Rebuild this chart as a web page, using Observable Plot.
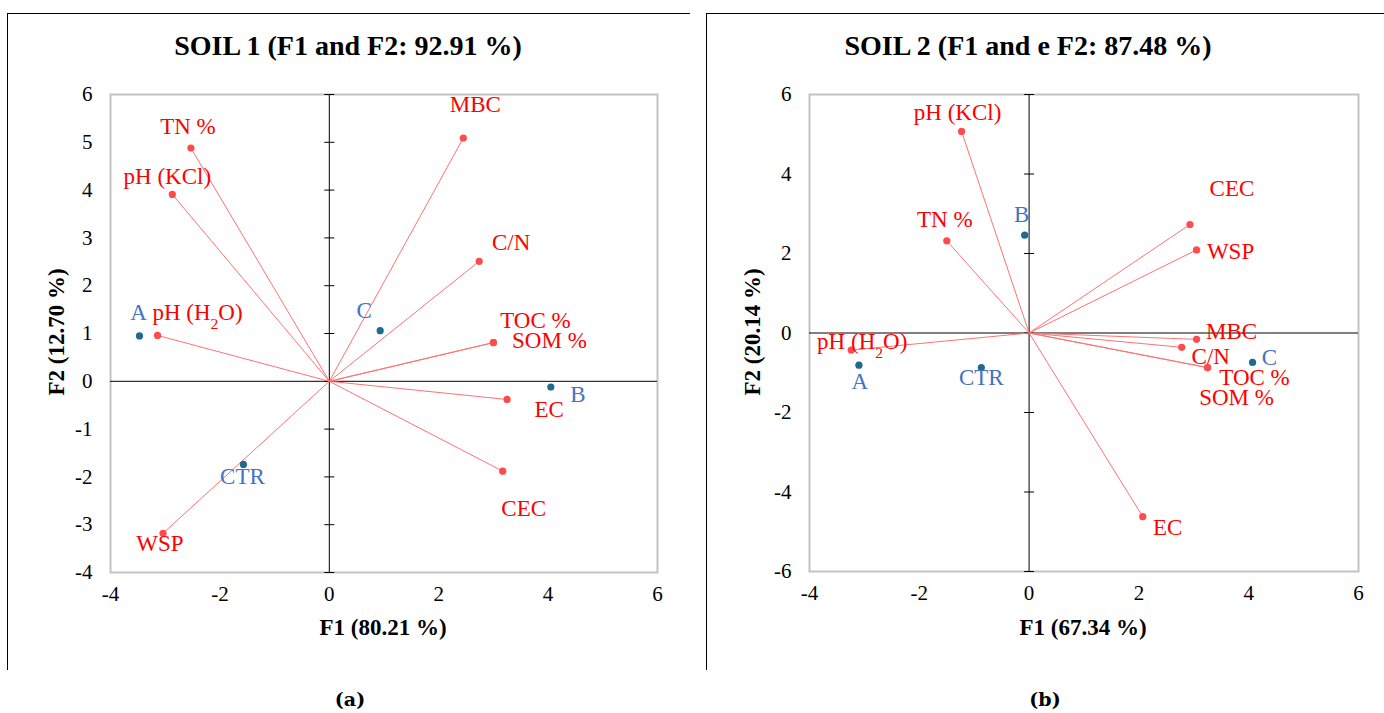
<!DOCTYPE html>
<html>
<head>
<meta charset="utf-8">
<script src="https://cdn.jsdelivr.net/npm/d3@7"></script>
<script src="https://cdn.jsdelivr.net/npm/@observablehq/plot@0.6"></script>
<style>
  body { margin: 0; background: #fff; }
  #wrap { position: relative; width: 1384px; height: 713px; overflow: hidden; font-family: 'Liberation Serif', 'DejaVu Serif', serif; color: #000; }
  .abs { position: absolute; }
  .c { transform: translate(-50%, -50%); white-space: nowrap; }
  .title { font-weight: bold; font-size: 28px; }
  .axt { font-weight: bold; font-size: 23px; }
  .rot { transform: translate(-50%, -50%) rotate(-90deg); }
  .cap { font-family: 'DejaVu Serif', serif; font-weight: bold; font-size: 19px; }
  .hline { height: 0; border-top: 1.5px solid #000; }
  .vline { width: 0; border-left: 1.5px solid #000; }
  svg text { font-family: 'Liberation Serif', 'DejaVu Serif', serif; }
</style>
</head>
<body>
<div id="wrap">
  <div class="abs hline" style="left:7px; top:13px; width:683px;"></div>
  <div class="abs vline" style="left:7px; top:13px; height:657px;"></div>
  <div class="abs hline" style="left:706px; top:13px; width:678px;"></div>
  <div class="abs vline" style="left:706px; top:13px; height:657px;"></div>

  <div class="abs c title" style="left:348px; top:46px;">SOIL 1 (F1 and F2: 92.91 %)</div>
  <div class="abs c title" style="left:1028px; top:46px;">SOIL 2 (F1 and e F2: 87.48 %)</div>

  <div id="p1" class="abs" style="left:0; top:0;"></div>
  <div id="p2" class="abs" style="left:700px; top:0;"></div>

  <div class="abs c axt" style="left:383px; top:628px;">F1 (80.21 %)</div>
  <div class="abs c axt" style="left:1083px; top:628px;">F1 (67.34 %)</div>
  <div class="abs axt rot" style="left:57px; top:332px; white-space:nowrap;">F2 (12.70 %)</div>
  <div class="abs axt rot" style="left:753px; top:332px; white-space:nowrap;">F2 (20.14 %)</div>

  <div class="abs c cap" style="left:350px; top:699px;">(a)</div>
  <div class="abs c cap" style="left:1045px; top:699px;">(b)</div>
</div>
<script>
// ---------- DATA: SOIL 1 ----------
const s1VarNames = ["TN %", "pH (KCl)", "pH (H2O)", "MBC", "C/N", "TOC %", "SOM %", "EC", "CEC", "WSP"];
const s1VarF1    = [-2.53, -2.87, -3.14, 2.45, 2.74, 3.00, 3.00, 3.25, 3.17, -3.04];
const s1VarF2    = [ 4.88,  3.91,  0.96, 5.09, 2.51, 0.81, 0.81, -0.38, -1.88, -3.18];
const s1ObsNames = ["A", "C", "B", "CTR"];
const s1ObsF1    = [-3.47, 0.93, 4.05, -1.57];
const s1ObsF2    = [ 0.95, 1.06, -0.12, -1.74];
const s1XTicks   = [-4, -2, 0, 2, 4, 6];
const s1YTicks   = [-4, -3, -2, -1, 0, 1, 2, 3, 4, 5, 6];

// ---------- DATA: SOIL 2 ----------
const s2VarNames = ["pH (KCl)", "TN %", "pH (H2O)", "CEC", "WSP", "MBC", "C/N", "TOC %", "SOM %", "EC"];
const s2VarF1    = [-1.23, -1.50, -3.24, 2.93, 3.05, 3.05, 2.78, 3.25, 3.25, 2.07];
const s2VarF2    = [ 5.07,  2.32, -0.43, 2.73, 2.09, -0.16, -0.36, -0.87, -0.87, -4.62];
const s2ObsNames = ["B", "A", "CTR", "C"];
const s2ObsF1    = [-0.08, -3.10, -0.87, 4.07];
const s2ObsF2    = [ 2.46, -0.81, -0.87, -0.74];
const s2XTicks   = [-4, -2, 0, 2, 4, 6];
const s2YTicks   = [-6, -4, -2, 0, 2, 4, 6];

// ---------- label placement (pixel offsets from point) ----------
const s1LabelOffsets = {
  "TN %": [-3, -21], "pH (KCl)": [-5, -18], "pH (H2O)": [40, -23], "MBC": [12, -33],
  "C/N": [32, -19], "TOC %": [42, -22], "SOM %": [56, -2], "EC": [42, 10],
  "CEC": [21, 37], "WSP": [-3, 10], "A": [-1, -23], "C": [-16, -20], "B": [27, 8], "CTR": [-1, 12]
};
const s2LabelOffsets = {
  "pH (KCl)": [-4, -19], "TN %": [-2, -21], "pH (H2O)": [11, -8], "CEC": [42, -36],
  "WSP": [34, 2], "MBC": [35, -8], "C/N": [29, 9], "TOC %": [47, 10], "SOM %": [29, 30],
  "EC": [25, 11], "A": [1, 16], "CTR": [0, 10], "B": [-3, -21], "C": [17, -5]
};

const FONT = "'Liberation Serif', 'DejaVu Serif', serif";
const zip = (names, xs, ys) => names.map((n, i) => ({name: n, x: xs[i], y: ys[i]}));
const fmt = d => String(d);
const tickSym = { draw(ctx) { ctx.moveTo(-5, 0); ctx.lineTo(5, 0); } };

function panel({vars, obs, xTicks, yTicks, yDomain, offsets, width, height, ml, mr, mt, mb}) {
  const labelMarks = [];
  for (const v of vars) {
    const [dx, dy] = offsets[v.name];
    labelMarks.push(Plot.text([v], {x: "x", y: "y", text: "name", dx, dy, fill: "#ff0000", fontSize: 23, textAnchor: "middle", fontFamily: FONT}));
  }
  for (const o of obs) {
    const [dx, dy] = offsets[o.name];
    labelMarks.push(Plot.text([o], {x: "x", y: "y", text: "name", dx, dy, fill: "#4472c4", fontSize: 23, textAnchor: "middle", fontFamily: FONT}));
  }
  const svg = Plot.plot({
    width, height,
    marginLeft: ml, marginRight: mr, marginTop: mt, marginBottom: mb,
    x: {domain: [xTicks[0], xTicks[xTicks.length - 1]]},
    y: {domain: yDomain},
    style: {fontFamily: FONT, fontSize: "21px", color: "#000", background: "transparent", overflow: "visible"},
    marks: [
      Plot.axisX(xTicks, {tickSize: 0, tickPadding: 14, tickFormat: fmt, label: null, fontSize: 21, fontFamily: FONT}),
      Plot.axisY(yTicks, {tickSize: 0, tickPadding: 18, tickFormat: fmt, label: null, fontSize: 21, fontFamily: FONT}),
      Plot.frame({stroke: "#c3c3c3", strokeWidth: 2}),
      Plot.ruleY([0], {stroke: "#000", strokeWidth: 1}),
      Plot.ruleX([0], {stroke: "#000", strokeWidth: 1}),
      Plot.dot(yTicks, {x: 0, y: d => d, symbol: tickSym, fill: "none", stroke: "#000", strokeWidth: 1}),
      Plot.link(vars, {x1: 0, y1: 0, x2: "x", y2: "y", stroke: "#ff7272", strokeWidth: 1}),
      Plot.dot(vars, {x: "x", y: "y", r: 3.6, fill: "#ff4b4b"}),
      Plot.dot(obs, {x: "x", y: "y", r: 3.6, fill: "#1f6b8d"}),
      ...labelMarks
    ]
  });
  // subscript for H2O
  svg.querySelectorAll("text").forEach(t => {
    if (t.textContent === "pH (H2O)") {
      t.textContent = "";
      const ns = "http://www.w3.org/2000/svg";
      t.appendChild(document.createTextNode("pH (H"));
      const sub = document.createElementNS(ns, "tspan");
      sub.setAttribute("font-size", "0.68em");
      sub.setAttribute("baseline-shift", "sub");
      sub.textContent = "2";
      t.appendChild(sub);
      t.appendChild(document.createTextNode("O)"));
    }
  });
  return svg;
}

document.getElementById("p1").appendChild(panel({
  vars: zip(s1VarNames, s1VarF1, s1VarF2),
  obs: zip(s1ObsNames, s1ObsF1, s1ObsF2),
  xTicks: s1XTicks, yTicks: s1YTicks, yDomain: [-4, 6], offsets: s1LabelOffsets,
  width: 700, height: 640, ml: 110, mr: 43, mt: 94, mb: 68
}));
document.getElementById("p2").appendChild(panel({
  vars: zip(s2VarNames, s2VarF1, s2VarF2),
  obs: zip(s2ObsNames, s2ObsF1, s2ObsF2),
  xTicks: s2XTicks, yTicks: s2YTicks, yDomain: [-6, 6], offsets: s2LabelOffsets,
  width: 684, height: 640, ml: 109, mr: 26, mt: 94, mb: 69
}));
</script>
</body>
</html>
